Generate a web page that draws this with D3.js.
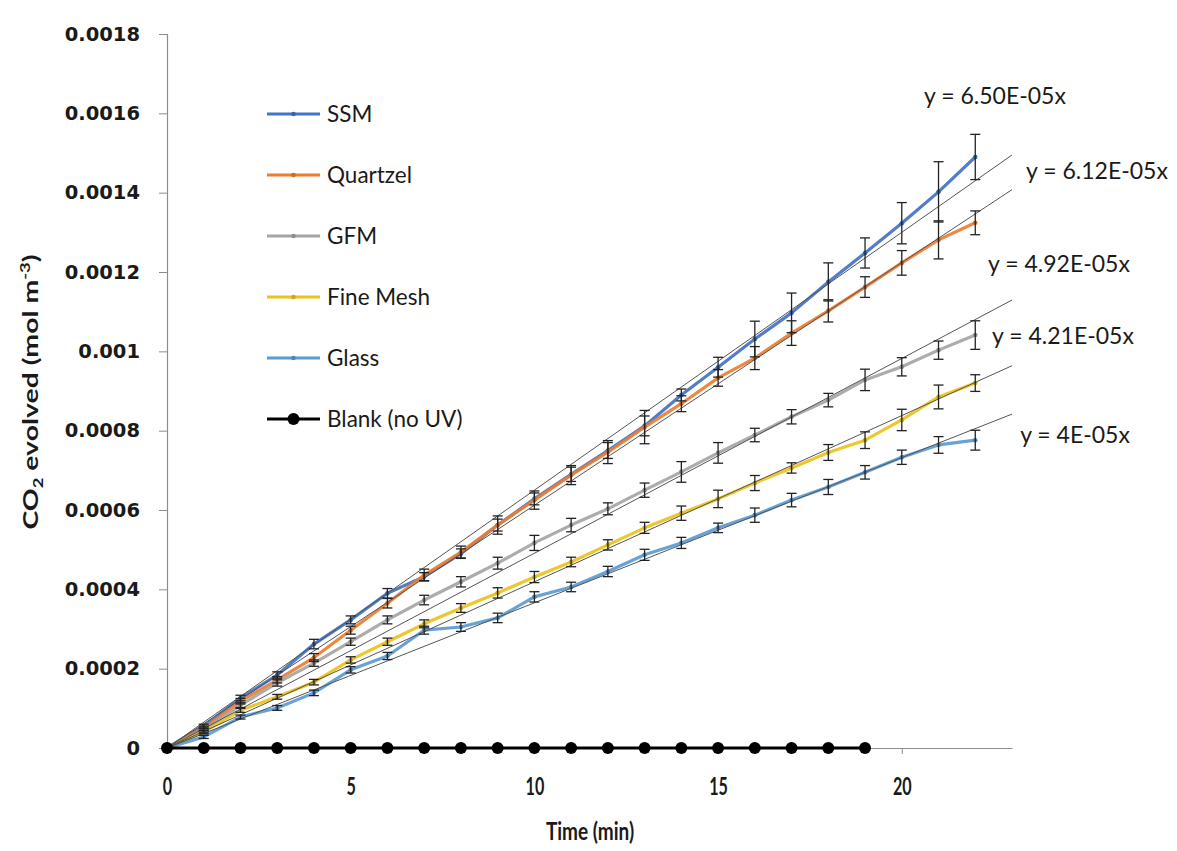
<!DOCTYPE html>
<html><head><meta charset="utf-8">
<script src="https://cdn.jsdelivr.net/npm/d3@7"></script>
<style>html,body{margin:0;padding:0;background:#fff;} svg{display:block;}</style>
</head><body>
<svg id="chart" width="1177" height="851"></svg>
<script>
const time = d3.range(0, 23);
const blankTime = d3.range(0, 20);
const seriesNames = ["SSM", "Quartzel", "GFM", "Fine Mesh", "Glass", "Blank (no UV)"];
const seriesColors = ["#4472C4", "#ED7D31", "#A5A5A5", "#EBC21A", "#5B9BD5", "#000000"];
const ssm = [0, 0.000055, 0.000126, 0.000184, 0.000262, 0.000323, 0.000390, 0.000432, 0.000490, 0.000562, 0.000628, 0.000690, 0.000750, 0.000812, 0.000890, 0.000960, 0.001031, 0.001097, 0.001175, 0.001248, 0.001323, 0.001402, 0.001490];
const quartzel = [0, 0.000050, 0.000118, 0.000172, 0.000228, 0.000297, 0.000365, 0.000436, 0.000494, 0.000562, 0.000625, 0.000688, 0.000746, 0.000809, 0.000868, 0.000933, 0.000983, 0.001046, 0.001102, 0.001162, 0.001223, 0.001281, 0.001324];
const gfm = [0, 0.000045, 0.000108, 0.000164, 0.000214, 0.000268, 0.000323, 0.000373, 0.000419, 0.000466, 0.000517, 0.000562, 0.000603, 0.000650, 0.000696, 0.000744, 0.000789, 0.000835, 0.000877, 0.000928, 0.000961, 0.001003, 0.001041];
const fineMesh = [0, 0.000040, 0.000095, 0.000129, 0.000166, 0.000222, 0.000268, 0.000313, 0.000353, 0.000391, 0.000431, 0.000469, 0.000512, 0.000555, 0.000592, 0.000628, 0.000668, 0.000706, 0.000745, 0.000776, 0.000827, 0.000885, 0.000920];
const glass = [0, 0.000028, 0.000078, 0.000101, 0.000139, 0.000197, 0.000232, 0.000297, 0.000305, 0.000328, 0.000381, 0.000406, 0.000445, 0.000487, 0.000517, 0.000555, 0.000587, 0.000625, 0.000658, 0.000695, 0.000733, 0.000764, 0.000776];
const blank = blankTime.map(() => 0);
const ssmErr = [0, 0.000005, 0.000007, 0.000008, 0.000012, 0.000010, 0.000012, 0.000010, 0.000012, 0.000015, 0.000015, 0.000018, 0.000020, 0.000025, 0.000015, 0.000025, 0.000045, 0.000050, 0.000048, 0.000038, 0.000052, 0.000076, 0.000057];
const quartzelErr = [0, 0.000005, 0.000007, 0.000008, 0.000010, 0.000010, 0.000012, 0.000015, 0.000015, 0.000023, 0.000023, 0.000024, 0.000029, 0.000042, 0.000020, 0.000021, 0.000029, 0.000031, 0.000028, 0.000026, 0.000031, 0.000048, 0.000030];
const gfmErr = [0, 0.000005, 0.000006, 0.000008, 0.000008, 0.000009, 0.000010, 0.000012, 0.000013, 0.000015, 0.000019, 0.000017, 0.000015, 0.000018, 0.000026, 0.000026, 0.000017, 0.000018, 0.000017, 0.000027, 0.000023, 0.000023, 0.000036];
const fineMeshErr = [0, 0.000004, 0.000005, 0.000006, 0.000007, 0.000008, 0.000009, 0.000010, 0.000011, 0.000013, 0.000014, 0.000012, 0.000013, 0.000014, 0.000018, 0.000022, 0.000019, 0.000013, 0.000020, 0.000021, 0.000027, 0.000030, 0.000021];
const glassErr = [0, 0.000004, 0.000005, 0.000006, 0.000007, 0.000008, 0.000009, 0.000010, 0.000011, 0.000012, 0.000013, 0.000012, 0.000013, 0.000014, 0.000014, 0.000012, 0.000018, 0.000017, 0.000019, 0.000017, 0.000018, 0.000021, 0.000025];
const trendSlopes = [6.50e-5, 6.12e-5, 4.91e-5, 4.19e-5, 3.66e-5];
const trendLabels = ["y = 6.50E-05x", "y = 6.12E-05x", "y = 4.92E-05x", "y = 4.21E-05x", "y = 4E-05x"];
const xTicks = [0, 5, 10, 15, 20];
const yTicks = [0, 0.0002, 0.0004, 0.0006, 0.0008, 0.001, 0.0012, 0.0014, 0.0016, 0.0018];

const values = [ssm, quartzel, gfm, fineMesh, glass];
const errors = [ssmErr, quartzelErr, gfmErr, fineMeshErr, glassErr];

const svg = d3.select("#chart");
const x = d3.scaleLinear().domain([0, 23]).range([167, 1012]);
const y = d3.scaleLinear().domain([0, 0.0018]).range([748, 34]);

// axes
const yAxis = svg.append("g").attr("transform", "translate(167,0)")
  .call(d3.axisLeft(y).tickValues(yTicks).tickSize(8).tickPadding(19)
    .tickFormat(d => d === 0 ? "0" : String(+d.toFixed(4))));
yAxis.select(".domain").attr("stroke", "#8c8c8c").attr("stroke-width", 1.2);
yAxis.selectAll(".tick line").attr("stroke", "#8c8c8c");
yAxis.selectAll(".tick text").attr("font-family", "DejaVu Sans").attr("font-weight", "bold")
  .attr("font-size", 19.5).attr("fill", "#1a1a1a");

const xAxis = svg.append("g").attr("transform", "translate(0,748)")
  .call(d3.axisBottom(x).tickValues(xTicks).tickSize(6).tickPadding(0).tickSizeOuter(0));
xAxis.select(".domain").attr("stroke", "#8c8c8c").attr("stroke-width", 1.2);
xAxis.selectAll(".tick line").attr("stroke", "#8c8c8c");
xAxis.selectAll(".tick text").attr("font-family", "Lato").attr("font-weight", "bold")
  .attr("font-size", 19).attr("fill", "#1a1a1a").attr("dy", null).attr("y", 0)
  .attr("transform", "translate(0,47) scale(0.85,1.3)");

// axis titles
svg.append("text").attr("transform", "translate(590,840) scale(0.95,1.25)").attr("text-anchor", "middle")
  .attr("font-family", "Lato").attr("font-weight", "bold").attr("font-size", 20).attr("fill", "#1a1a1a")
  .text("Time (min)");
const yt = svg.append("text").attr("transform", "translate(38,392) rotate(-90) scale(1.42,1)").attr("text-anchor", "middle")
  .attr("font-family", "Lato").attr("font-weight", "bold").attr("font-size", 20).attr("fill", "#1a1a1a");
yt.append("tspan").text("CO");
yt.append("tspan").attr("font-size", 13).attr("dy", 5).text("2");
yt.append("tspan").attr("dy", -5).text(" evolved (mol m");
yt.append("tspan").attr("font-size", 13).attr("dy", -8).text("-3");
yt.append("tspan").attr("dy", 8).text(")");

const line = d3.line().x((d, i) => x(time[i])).y(d => y(d));

// series lines
values.forEach((vals, k) => {
  svg.append("path").datum(vals).attr("d", line).attr("fill", "none")
    .attr("stroke", seriesColors[k]).attr("stroke-width", 3.2).attr("stroke-linejoin", "round").attr("opacity", 0.92);
  svg.append("g").selectAll("circle").data(vals).join("circle")
    .attr("cx", (d, i) => x(time[i])).attr("cy", d => y(d)).attr("r", 2.3)
    .attr("fill", d3.color(seriesColors[k]).darker(0.4));
});

// trendlines
trendSlopes.forEach(s => {
  svg.append("line").attr("x1", x(0)).attr("y1", y(0)).attr("x2", x(23)).attr("y2", y(s * 23))
    .attr("stroke", "#555").attr("stroke-width", 1);
});

// error bars
values.forEach((vals, k) => {
  const g = svg.append("g").attr("stroke", "#222").attr("stroke-width", 1.3);
  vals.forEach((v, i) => {
    const e = errors[k][i];
    if (!e) return;
    const cx = x(time[i]), y1 = y(v + e), y2 = y(v - e);
    g.append("line").attr("x1", cx).attr("x2", cx).attr("y1", y1).attr("y2", y2);
    g.append("line").attr("x1", cx - 5).attr("x2", cx + 5).attr("y1", y1).attr("y2", y1);
    g.append("line").attr("x1", cx - 5).attr("x2", cx + 5).attr("y1", y2).attr("y2", y2);
  });
});

// blank series
svg.append("path").datum(blank).attr("d", d3.line().x((d, i) => x(blankTime[i])).y(d => y(d)))
  .attr("fill", "none").attr("stroke", "#000").attr("stroke-width", 3);
svg.append("g").selectAll("circle").data(blank).join("circle")
  .attr("cx", (d, i) => x(blankTime[i])).attr("cy", d => y(d)).attr("r", 6).attr("fill", "#000");

// trend labels
const labelPos = [[995, 97], [1097, 172], [1059, 265], [1063, 337], [1075, 436]];
trendLabels.forEach((t, k) => {
  svg.append("text").attr("x", labelPos[k][0]).attr("y", labelPos[k][1] + 7).attr("text-anchor", "middle")
    .attr("font-family", "Lato").attr("font-size", 23).attr("fill", "#1a1a1a").text(t);
});

// legend
seriesNames.forEach((n, k) => {
  const ly = 114 + k * 61;
  svg.append("line").attr("x1", 267).attr("x2", 320).attr("y1", ly).attr("y2", ly)
    .attr("stroke", seriesColors[k]).attr("stroke-width", 3);
  svg.append("circle").attr("cx", 293.5).attr("cy", ly).attr("r", k === 5 ? 6 : 2.3)
    .attr("fill", k === 5 ? "#000" : d3.color(seriesColors[k]).darker(0.4));
  svg.append("text").attr("x", 327).attr("y", ly + 8).attr("font-family", "Lato").attr("font-size", 22.5)
    .attr("fill", "#1a1a1a").text(n);
});
</script>
</body></html>
